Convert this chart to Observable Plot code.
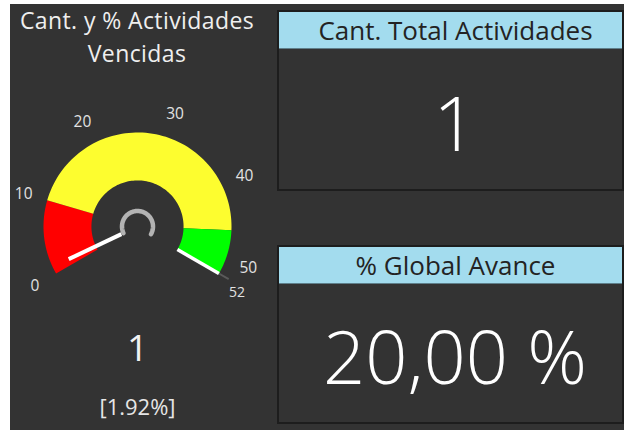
<!DOCTYPE html>
<html>
<head>
<meta charset="utf-8">
<script src="https://cdn.jsdelivr.net/npm/d3@7"></script>
<script src="https://cdn.jsdelivr.net/npm/@observablehq/plot@0.6"></script>
<style>
  html, body { margin: 0; padding: 0; background: #ffffff; }
  body { width: 624px; height: 430px; position: relative; overflow: hidden; font-family: "Open Sans", "Noto Sans", sans-serif; }
  .dark { position: absolute; background: #333333; }
  .title { position: absolute; left: 10px; top: 4px; width: 254px; text-align: center; color: #efefef; font-size: 23px; letter-spacing: 0.4px; line-height: 33px; white-space: nowrap; }
  .card { position: absolute; left: 277px; width: 343px; background: #333333; border: 2px solid #1d1d1d; }
  .card .head { height: 37px; background: #a3dcee; color: #232323; font-size: 26px; line-height: 37px; text-align: center; padding-left: 10px; box-sizing: border-box; border-bottom: 1px solid #5f7f8a; white-space: nowrap; }
  .card svg { display: block; }
  #gauge { position: absolute; left: 10px; top: 80px; }
</style>
</head>
<body>
<div class="dark" style="left:10px; top:4px; width:614px; height:426px;"></div>
<div class="title" id="title"></div>
<div id="gauge"></div>
<div class="card" id="card0" style="top:10px; height:177px;"></div>
<div class="card" id="card1" style="top:245px; height:175px;"></div>
<script>
// ---- data ----
const gaugeTitle = ["Cant. y % Actividades", "Vencidas"];
const gaugeMin = 0;
const gaugeMax = 52;
const gaugeValue = 1;
const gaugeTicks = [0, 10, 20, 30, 40, 50];
const bandNames = ["bajo", "medio", "alto"];
const bandFrom = [0, 10, 46];
const bandTo = [10, 46, 52];
const cardTitles = ["Cant. Total Actividades", "% Global Avance"];
const cardValues = [1, 20.00];
const cardFormats = ["count", "percent"];

// ---- title ----
document.getElementById("title").innerHTML = gaugeTitle.join("<br>");

// ---- gauge ----
const angle = d3.scaleLinear().domain([gaugeMin, gaugeMax]).range([-2 * Math.PI / 3, 2 * Math.PI / 3]);
const px = (r, v) => r * Math.sin(angle(v));
const py = (r, v) => r * Math.cos(angle(v));
const rOuter = 1, rInner = 0.49, rHub = 0.165, rLabel = 1.26;

function arcPoints(from, to, r1, r2, key) {
  const pts = [];
  const n = 80;
  for (let i = 0; i <= n; i++) { const v = from + (to - from) * i / n; pts.push({band: key, x: px(r1, v), y: py(r1, v)}); }
  if (r2 != null) for (let i = n; i >= 0; i--) { const v = from + (to - from) * i / n; pts.push({band: key, x: px(r2, v), y: py(r2, v)}); }
  return pts;
}
const bandPoints = bandNames.flatMap((b, i) => arcPoints(bandFrom[i], bandTo[i], rOuter, rInner, b));
const hubPoints = arcPoints(gaugeValue, gaugeMax, rHub, null, "hub");
const pct = (gaugeValue / gaugeMax * 100).toFixed(2);

const gauge = Plot.plot({
  width: 254, height: 350, margin: 0,
  x: {domain: [-1.351, 1.351], axis: null},
  y: {domain: [-2.170, 1.553], axis: null},
  color: {domain: bandNames, range: ["#ff0000", "#fdfd2f", "#00ff00"]},
  style: {background: "transparent", overflow: "visible", fontFamily: "'Open Sans', sans-serif"},
  marks: [
    Plot.line(bandPoints, {x: "x", y: "y", z: "band", fill: "band", stroke: null, curve: "linear"}),
    Plot.line(hubPoints, {x: "x", y: "y", stroke: "#b3b3b3", strokeWidth: 4.5}),
    Plot.link([gaugeValue], {x1: v => px(0.19, v), y1: v => py(0.19, v), x2: v => px(0.81, v), y2: v => py(0.81, v), stroke: "#ffffff", strokeWidth: 4}),
    Plot.link([gaugeMax], {x1: v => px(rOuter, v), y1: v => py(rOuter, v), x2: v => px(1.12, v), y2: v => py(1.12, v), stroke: "#5a5a5a", strokeWidth: 2}),
    Plot.link([gaugeMax], {x1: v => px(rInner, v), y1: v => py(rInner, v), x2: v => px(rOuter, v), y2: v => py(rOuter, v), stroke: "#ffffff", strokeWidth: 3.5}),
    Plot.text(gaugeTicks, {x: v => px(rLabel, v), y: v => py(rLabel, v), text: d => String(d), fill: "#e2e2e2", fontSize: 15.5}),
    Plot.text([gaugeMax], {x: v => px(rLabel, v), y: v => py(rLabel, v), dy: 7, dx: -3, text: d => String(d), fill: "#e2e2e2", fontSize: 14}),
    Plot.text([gaugeValue], {frameAnchor: "bottom", dy: -70, text: d => String(d), fill: "#f2f2f2", fontSize: 37}),
    Plot.text([pct], {frameAnchor: "bottom", dy: -16, text: d => "[" + d + "%]", fill: "#e6e6e6", fontSize: 22})
  ]
});
document.getElementById("gauge").appendChild(gauge);

// ---- cards ----
const fmt = (v, f) => f === "percent" ? v.toFixed(2).replace(".", ",") + " %" : String(v);
const cardDx = [4, 4];
const cardSize = [76, 74];
cardTitles.forEach((t, i) => {
  const card = document.getElementById("card" + i);
  const head = document.createElement("div");
  head.className = "head";
  head.textContent = t;
  card.appendChild(head);
  const h = card.clientHeight - 37;
  const p = Plot.plot({
    width: 343, height: h, margin: 0,
    style: {background: "transparent", overflow: "visible", fontFamily: "'Open Sans', sans-serif"},
    marks: [
      Plot.text([cardValues[i]], {frameAnchor: "middle", dx: cardDx[i], dy: 7, text: d => fmt(d, cardFormats[i]), fill: "#ffffff", fontSize: cardSize[i], fontWeight: 300, letterSpacing: "-1px"})
    ]
  });
  card.appendChild(p);
});
</script>
</body>
</html>
